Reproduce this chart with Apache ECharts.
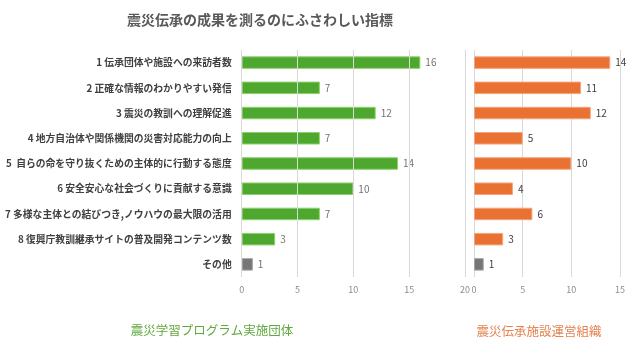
<!DOCTYPE html>
<html><head><meta charset="utf-8">
<script src="https://cdn.jsdelivr.net/npm/echarts@6/dist/echarts.min.js"></script>
<style>html,body{margin:0;padding:0;background:#fff}#c{width:640px;height:342px}</style>
</head><body><div id="c"></div>
<script>
const categories = [
  '1 伝承団体や施設への来訪者数',
  '2 正確な情報のわかりやすい発信',
  '3 震災の教訓への理解促進',
  '4 地方自治体や関係機関の災害対応能力の向上',
  '5  自らの命を守り抜くための主体的に行動する態度',
  '6 安全安心な社会づくりに貢献する意識',
  '7 多様な主体との結びつき,ノウハウの最大限の活用',
  '8 復興庁教訓継承サイトの普及開発コンテンツ数',
  'その他'
];
const programValues = [16, 7, 12, 7, 14, 10, 7, 3, 1];
const facilityValues = [14, 11, 12, 5, 10, 4, 6, 3, 1];
const leftTicks = [0, 5, 10, 15, 20];
const rightTicks = [0, 5, 10, 15];
const titleText = '震災伝承の成果を測るのにふさわしい指標';
const leftName = '震災学習プログラム実施団体';
const rightName = '震災伝承施設運営組織';

const FONT = '"Noto Sans CJK JP", sans-serif';
const GREEN = '#4EA72E', ORANGE = '#E97132', GRAY = '#767676';
function items(vals, color, border) {
  return vals.map((v, i) => i === vals.length - 1
    ? { value: v, itemStyle: { color: GRAY, borderColor: '#a6a6a6' } }
    : { value: v, itemStyle: { color: color, borderColor: border } });
}
const chart = echarts.init(document.getElementById('c'), null, { renderer: 'canvas' });
const xCommon = {
  type: 'value', interval: 5,
  axisLine: { show: false }, axisTick: { show: false },
  splitLine: { lineStyle: { color: '#d9d9d9', width: 1 } },
};
chart.setOption({
  animation: false,
  textStyle: { fontFamily: FONT },
  title: [
    { text: titleText, left: 255, top: 8, textAlign: 'center',
      textStyle: { fontSize: 14, fontWeight: 'bold', color: '#595959', fontFamily: FONT } },
    { text: leftName, left: 207, top: 319, textAlign: 'center',
      textStyle: { fontSize: 12.5, fontWeight: 'normal', color: '#62a83f', fontFamily: FONT } },
    { text: rightName, left: 534, top: 320, textAlign: 'center',
      textStyle: { fontSize: 12.5, fontWeight: 'normal', color: '#e5834f', fontFamily: FONT } }
  ],
  grid: [
    { left: 474, width: 146, top: 50, height: 227, containLabel: false },
    { left: 241.7, width: 223.3, top: 50, height: 227, containLabel: false }
  ],
  xAxis: [
    Object.assign({}, xCommon, { gridIndex: 0, min: 0, max: 15,
      axisLabel: { color: '#8c8c8c', fontSize: 9, margin: 8, fontFamily: FONT } }),
    Object.assign({}, xCommon, { gridIndex: 1, min: 0, max: 20, z: 10,
      axisLabel: { color: '#8c8c8c', fontSize: 9, margin: 8, fontFamily: FONT,
        backgroundColor: '#fff', padding: [0, 2, 0, 2] } })
  ],
  yAxis: [
    { type: 'category', gridIndex: 0, data: categories, inverse: true,
      axisLine: { show: false }, axisTick: { show: false }, axisLabel: { show: false } },
    { type: 'category', gridIndex: 1, data: categories, inverse: true,
      axisLine: { show: false }, axisTick: { show: false },
      axisLabel: { color: '#404040', fontSize: 9.8, fontWeight: 'bold', margin: 10, fontFamily: FONT } }
  ],
  series: [
    { type: 'bar', xAxisIndex: 0, yAxisIndex: 0, barWidth: 12.5,
      data: items(facilityValues, ORANGE, '#f4a57c'),
      itemStyle: { borderWidth: 1 },
      label: { show: true, position: 'right', distance: 5, color: '#404040', fontSize: 10, fontFamily: FONT } },
    { type: 'bar', xAxisIndex: 1, yAxisIndex: 1, barWidth: 12.5,
      data: items(programValues, GREEN, '#8fd16f'),
      itemStyle: { borderWidth: 1 },
      label: { show: true, position: 'right', distance: 5, color: '#737373', fontSize: 10, fontFamily: FONT } }
  ]
});
</script></body></html>
